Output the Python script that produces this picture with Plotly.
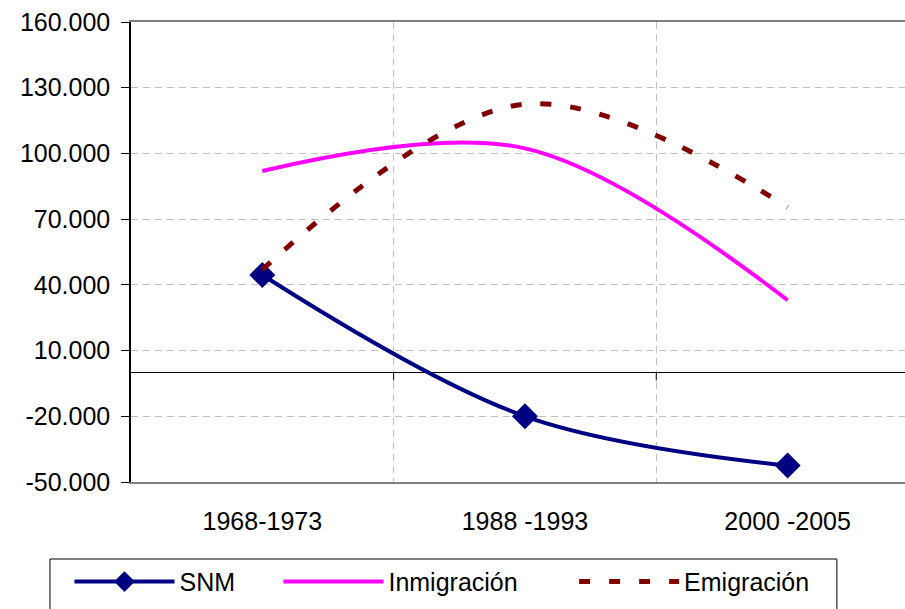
import plotly.graph_objects as go

categories = ["1968-1973", "1988 -1993", "2000 -2005"]
snm = [44500, -20000, -42500]
inmigracion = [92000, 102300, 33000]
emigracion = [47000, 122500, 75500]

ytick_vals = [-50000, -20000, 10000, 40000, 70000, 100000, 130000, 160000]
ytick_text = ["-50.000", "-20.000", "10.000", "40.000", "70.000", "100.000", "130.000", "160.000"]

FONT = "Arial, Liberation Sans, sans-serif"

fig = go.Figure()
fig.add_trace(go.Scatter(
    x=categories, y=snm, name="SNM", mode="lines+markers", legend="legend",
    line=dict(color="#000080", width=4, shape="spline", smoothing=1),
    marker=dict(symbol="diamond", size=20, color="#000080"),
))
fig.add_trace(go.Scatter(
    x=categories, y=inmigracion, name="Inmigración", mode="lines", legend="legend2",
    line=dict(color="#FF00FF", width=4, shape="spline", smoothing=1),
))
fig.add_trace(go.Scatter(
    x=categories, y=emigracion, name="Emigración", mode="lines", legend="legend3",
    line=dict(color="#800000", width=5, shape="spline", smoothing=1, dash="11px,19px"),
))

# small tick marks on the category axis drawn at y = 0
for xv in [0.5, 1.5]:
    fig.add_shape(type="line", xref="x", yref="y", x0=xv, x1=xv,
                  ysizemode="pixel", yanchor=0, y0=0, y1=-8,
                  line=dict(color="black", width=1))

# legend frame
fig.add_shape(type="rect", xref="paper", yref="paper",
              x0=-0.1047, x1=0.912, y0=-0.1674, y1=-0.32,
              line=dict(color="black", width=1), fillcolor="rgba(0,0,0,0)", layer="below")

leg_common = dict(orientation="h", xanchor="left", y=-0.167, yanchor="top",
                  borderwidth=0, bgcolor="rgba(0,0,0,0)",
                  font=dict(family=FONT, size=25, color="black"), itemwidth=100)

fig.update_layout(
    width=905, height=609,
    margin=dict(l=131, r=0, t=22, b=127),
    paper_bgcolor="white", plot_bgcolor="white",
    font=dict(family=FONT, size=25, color="black"),
    showlegend=True,
    legend=dict(x=-0.0795, **leg_common),
    legend2=dict(x=0.1905, **leg_common),
    legend3=dict(x=0.5725, **leg_common),
)
fig.update_xaxes(
    type="category", range=[-0.5, 2.447], tickson="boundaries",
    showgrid=True, gridcolor="#c0c0c0", griddash="7px,5px", gridwidth=1,
    showline=True, linecolor="#808080", linewidth=2, mirror=True,
    ticks="", ticklabelstandoff=16, zeroline=False,
    tickfont=dict(family=FONT, size=25, color="black"),
)
fig.update_yaxes(
    range=[-50000, 160000], tickvals=ytick_vals, ticktext=ytick_text,
    showgrid=True, gridcolor="#c0c0c0", griddash="7px,5px", gridwidth=1,
    showline=True, linecolor="black", linewidth=1.5,
    ticks="outside", ticklen=8, tickcolor="black", ticklabelstandoff=6,
    zeroline=True, zerolinecolor="black", zerolinewidth=1,
    tickfont=dict(family=FONT, size=25, color="black"),
)

fig.write_html("out.html", config={"displayModeBar": False},
               post_script="document.body.style.margin='0px';")
